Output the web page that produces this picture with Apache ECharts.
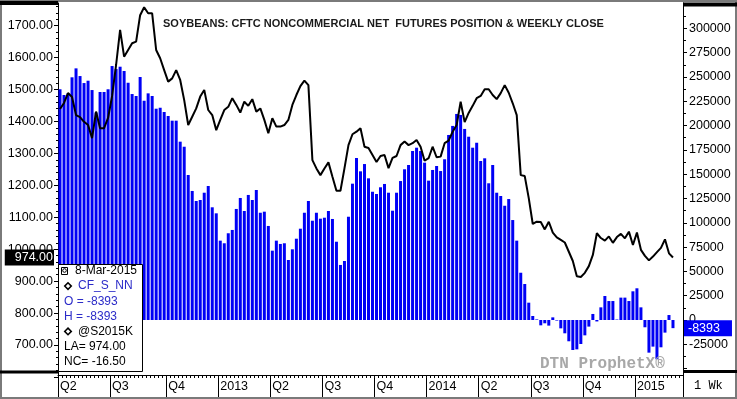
<!DOCTYPE html>
<html>
<head>
<meta charset="utf-8">
<script src="https://cdn.jsdelivr.net/npm/echarts@6/dist/echarts.min.js"></script>
<style>
html, body { margin: 0; padding: 0; background: #fff; }
#chart { width: 737px; height: 399px; }
</style>
</head>
<body>
<div id="chart"></div>
<script>
// ---------------- data ----------------
var firstWeek = '2012-04-01';
var weekCount = 156;   // two empty weeks after the last bar

var quarterStarts = ['2012-04-01', '2012-07-01', '2012-10-07', '2013-01-06', '2013-04-07', '2013-07-07',
                     '2013-10-06', '2014-01-05', '2014-04-06', '2014-07-06', '2014-10-05', '2015-01-04'];
var quarterLabels = ['Q2', 'Q3', 'Q4', '2013', 'Q2', 'Q3', 'Q4', '2014', 'Q2', 'Q3', 'Q4', '2015'];

// CFTC noncommercial net futures position (right axis)
var netPosition = [
    237300, 231400, 233100, 249600, 258800, 250900, 243700, 246100, 236500, 213400,
    234500, 234500, 237300, 261200, 258100, 260500, 256100, 244000, 232400, 230400,
    249900, 225500, 233100, 230400, 217300, 218300, 213900, 209800, 205000, 205000,
    183400, 178200, 149100, 132700, 122400, 123400, 130900, 137800, 115900, 109700,
    81600, 78900, 89200, 92600, 114200, 125500, 112100, 128600, 123400, 133700,
    110300, 111400, 96700, 71300, 81600, 78200, 78900, 61700, 72700, 83600,
    93900, 110300, 122400, 102100, 110300, 104200, 105200, 112100, 103900, 80500,
    56600, 60700, 106200, 140200, 166600, 152900, 160400, 145700, 131900, 129600,
    136500, 139900, 130900, 112400, 130900, 142900, 155000, 159400, 173800, 177200,
    173800, 161800, 143300, 154300, 158400, 153200, 165300, 190300, 199600, 211900,
    210900, 196500, 188500, 177200, 182300, 163500, 166300, 140600, 159400, 130900,
    127500, 117500, 124400, 102800, 81600, 48600, 37000, 17800, 4100, 600,
    -5500, -3400, -5800, 2700, -600, -8600, -13700, -21900, -30900, -30200,
    -24700, -15800, -6800, 6200, -1500, 13000, 24700, 19500, 19500, 500,
    23000, 23000, 19500, 29500, 32600, 13000, -7500, -33600, -27400, -40400,
    -28100, -13000, 5100, -8393
];

// weekly close, cents per bushel (left axis)
var weeklyClose = [
    1439, 1458, 1489, 1477, 1420, 1414, 1399, 1389, 1348, 1431,
    1379, 1379, 1411, 1480, 1577, 1687, 1603, 1624, 1645, 1650,
    1733, 1758, 1739, 1739, 1624, 1598, 1561, 1525, 1535, 1561,
    1530, 1467, 1389, 1415, 1441, 1478, 1499, 1436, 1420, 1373,
    1405, 1436, 1446, 1473, 1452, 1428, 1462, 1449, 1470, 1431,
    1441, 1405, 1363, 1410, 1384, 1384, 1389, 1405, 1452, 1483,
    1511, 1528, 1514, 1279, 1253, 1232, 1253, 1272, 1227, 1183,
    1183, 1253, 1326, 1360, 1368, 1379, 1321, 1317, 1295, 1273,
    1292, 1295, 1254, 1286, 1292, 1326, 1337, 1326, 1332, 1342,
    1321, 1277, 1285, 1321, 1288, 1290, 1332, 1340, 1368, 1389,
    1462, 1398, 1427, 1449, 1473, 1480, 1501, 1501, 1483, 1470,
    1489, 1514, 1490, 1457, 1420, 1232, 1229, 1160, 1079, 1086,
    1085, 1062, 1086, 1052, 1037, 1029, 1021, 992, 963, 915,
    913, 926, 947, 982, 1050, 1035, 1027, 1040, 1020, 1038,
    1048, 1034, 1055, 1013, 1052, 998, 979, 965, 977, 991,
    1004, 1031, 987, 974
];

var lastClose = 974;
var lastNet = -8393;

var legendLines = [
    { text: '8-Mar-2015', color: '#000' },
    { text: 'CF_S_NN', color: '#2b2bc8', marker: true },
    { text: 'O = -8393', color: '#2b2bc8' },
    { text: 'H = -8393', color: '#2b2bc8' },
    { text: '@S2015K', color: '#000', marker: true },
    { text: 'LA= 974.00', color: '#000' },
    { text: 'NC= -16.50', color: '#000' }
];

// ---------------- chart ----------------
var FONT = '"Liberation Sans", Arial, sans-serif';
var MONO = '"Liberation Mono", "DejaVu Sans Mono", monospace';
var BAR_BLUE = '#0000f5';

var weeks = [];
(function () {
    var t0 = new Date(firstWeek + 'T00:00:00Z').getTime();
    for (var i = 0; i < weekCount; i++) {
        weeks.push(new Date(t0 + i * 7 * 86400000).toISOString().slice(0, 10));
    }
})();

function isQuarterStart(index, value) {
    return quarterStarts.indexOf(value) >= 0;
}

function legendGraphics() {
    var els = [{
        type: 'rect', z: 100, silent: true,
        shape: { x: 58.5, y: 264.5, width: 84, height: 107 },
        style: { fill: '#fff', stroke: '#000', lineWidth: 1 }
    }, {
        type: 'rect', z: 101, silent: true,
        shape: { x: 61.5, y: 267.5, width: 6, height: 7 },
        style: { fill: '#fff', stroke: '#000', lineWidth: 1 }
    }, {
        type: 'circle', z: 101, silent: true,
        shape: { cx: 64.5, cy: 270.5, r: 1.8 },
        style: { fill: 'none', stroke: '#000', lineWidth: 1 }
    }];
    legendLines.forEach(function (item, i) {
        var y = 271 + i * 15.1;
        var x = 64;
        if (i === 0) x = 75;
        if (item.marker) {
            els.push({
                type: 'polygon', z: 101, silent: true,
                shape: { points: [[68, y - 3.3], [71.3, y], [68, y + 3.3], [64.7, y]] },
                style: { fill: '#fff', stroke: '#000', lineWidth: 1.5 }
            });
            x = 78;
        }
        els.push({
            type: 'text', z: 101, silent: true,
            style: {
                text: item.text, x: x, y: y, fill: item.color,
                font: '12px ' + FONT, textVerticalAlign: 'middle', verticalAlign: 'middle'
            }
        });
    });
    return els;
}

var myChart = echarts.init(document.getElementById('chart'), null, { renderer: 'canvas' });

var option = {
    animation: false,
    backgroundColor: '#fff',
    title: {
        text: 'SOYBEANS: CFTC NONCOMMERCIAL NET  FUTURES POSITION & WEEKLY CLOSE',
        left: 163, top: 18, padding: 0,
        textStyle: { fontSize: 11, fontWeight: 'bold', color: '#1a1a1a', fontFamily: FONT }
    },
    grid: [
        { left: 58, right: 54, top: 3, bottom: 24, outerBoundsMode: 'none' },
        { left: 58, right: 54, top: -6.2, height: 383.1, outerBoundsMode: 'none' },
        { left: 58, right: 54, top: 4, height: 364.6, outerBoundsMode: 'none' }
    ],
    xAxis: [
        {
            gridIndex: 0, type: 'category', data: weeks, position: 'bottom', boundaryGap: true,
            axisLine: { show: true, onZero: false, lineStyle: { color: '#000', width: 1 } },
            axisTick: { show: true, interval: 0, length: 3, lineStyle: { color: '#000' } },
            axisLabel: { show: false },
            splitLine: { show: false }
        },
        {
            gridIndex: 0, type: 'category', data: weeks, position: 'bottom', boundaryGap: true,
            axisLine: { show: false, onZero: false },
            axisTick: { show: true, interval: isQuarterStart, length: 22, lineStyle: { color: '#000' } },
            axisLabel: {
                show: true, interval: isQuarterStart, align: 'left', margin: 5,
                fontSize: 12.5, color: '#000', fontFamily: FONT,
                formatter: function (value) {
                    return quarterLabels[quarterStarts.indexOf(value)];
                }
            },
            splitLine: { show: false }
        },
        { gridIndex: 1, type: 'category', data: weeks, show: false },
        { gridIndex: 2, type: 'category', data: weeks, show: false }
    ],
    yAxis: [
        {
            gridIndex: 0, type: 'value', min: 0, max: 1, position: 'left',
            axisLine: { show: true, lineStyle: { color: '#000' } },
            axisTick: { show: false }, axisLabel: { show: false }, splitLine: { show: false }
        },
        {
            gridIndex: 0, type: 'value', min: 0, max: 1, position: 'right',
            axisLine: { show: true, lineStyle: { color: '#000' } },
            axisTick: { show: false }, axisLabel: { show: false }, splitLine: { show: false }
        },
        {
            gridIndex: 1, type: 'value', min: 600, max: 1800, interval: 100, position: 'left',
            axisLine: { show: false },
            axisTick: { show: true, length: 4, lineStyle: { color: '#000' } },
            minorTick: { show: true, splitNumber: 5, length: 2, lineStyle: { color: '#000' } },
            axisLabel: {
                margin: 5, fontSize: 12.5, color: '#000', fontFamily: FONT,
                showMinLabel: false, showMaxLabel: false,
                formatter: function (v) { return v.toFixed(2); }
            },
            splitLine: { show: false }
        },
        {
            gridIndex: 2, type: 'value', min: -50000, max: 325000, interval: 25000, position: 'right',
            axisLine: { show: false },
            axisTick: { show: true, length: 4, lineStyle: { color: '#000' } },
            minorTick: { show: true, splitNumber: 2, length: 3, lineStyle: { color: '#000' } },
            axisLabel: {
                margin: 6, fontSize: 12.5, color: '#000', fontFamily: FONT,
                showMinLabel: false, showMaxLabel: false,
                formatter: function (v) { return String(v); }
            },
            splitLine: { show: false }
        }
    ],
    series: [
        {
            name: 'CF_S_NN', type: 'bar', xAxisIndex: 3, yAxisIndex: 3, z: 2,
            data: netPosition, barWidth: 3, clip: false,
            itemStyle: { color: BAR_BLUE },
            markLine: {
                silent: true, symbol: 'none', precision: 0,
                lineStyle: { color: 'rgba(0,0,0,0)', width: 0, type: 'solid' },
                label: {
                    show: true, position: 'end', distance: 1, opacity: 1,
                    formatter: String(lastNet),
                    color: '#fff', backgroundColor: BAR_BLUE,
                    fontSize: 12.5, fontFamily: FONT, padding: [2, 12, 1, 4]
                },
                data: [{ yAxis: lastNet }]
            }
        },
        {
            name: '@S2015K', type: 'line', xAxisIndex: 2, yAxisIndex: 2, z: 3,
            data: weeklyClose, showSymbol: false, symbol: 'none', clip: false,
            lineStyle: { color: '#000', width: 2 },
            markLine: {
                silent: true, symbol: 'none', precision: 2,
                lineStyle: { color: 'rgba(0,0,0,0)', width: 0, type: 'solid' },
                label: {
                    show: true, position: 'start', distance: 4, opacity: 1,
                    formatter: lastClose.toFixed(2),
                    color: '#fff', backgroundColor: '#000',
                    fontSize: 12.5, fontFamily: FONT, padding: [2, 1, 1, 10]
                },
                data: [{ yAxis: lastClose }]
            }
        }
    ],
    graphic: [
        // frame pieces
        { type: 'rect', silent: true, z: 90, shape: { x: 1, y: 1, width: 735, height: 397 },
          style: { fill: 'none', stroke: '#7a7a7a', lineWidth: 2 } },
        { type: 'rect', silent: true, z: 91, shape: { x: 0, y: 1, width: 58, height: 4 }, style: { fill: '#000' } },
        { type: 'rect', silent: true, z: 91, shape: { x: 683, y: 2.5, width: 54, height: 4 }, style: { fill: '#000' } },
        { type: 'rect', silent: true, z: 91, shape: { x: 0, y: 370.5, width: 58, height: 3 }, style: { fill: '#000' } },
        { type: 'rect', silent: true, z: 91, shape: { x: 683, y: 370, width: 54, height: 3 }, style: { fill: '#000' } },
        // watermark and period
        { type: 'text', silent: true, z: 50,
          style: { text: 'DTN ProphetX®', x: 540, y: 364, fill: '#a8a8a8',
                   font: 'bold 16px ' + MONO, textVerticalAlign: 'middle', verticalAlign: 'middle' } },
        { type: 'text', silent: true, z: 50,
          style: { text: '1 Wk', x: 694, y: 386, fill: '#000',
                   font: '12px ' + MONO, textVerticalAlign: 'middle', verticalAlign: 'middle' } }
    ].concat(legendGraphics())
};

myChart.setOption(option);
</script>
</body>
</html>
